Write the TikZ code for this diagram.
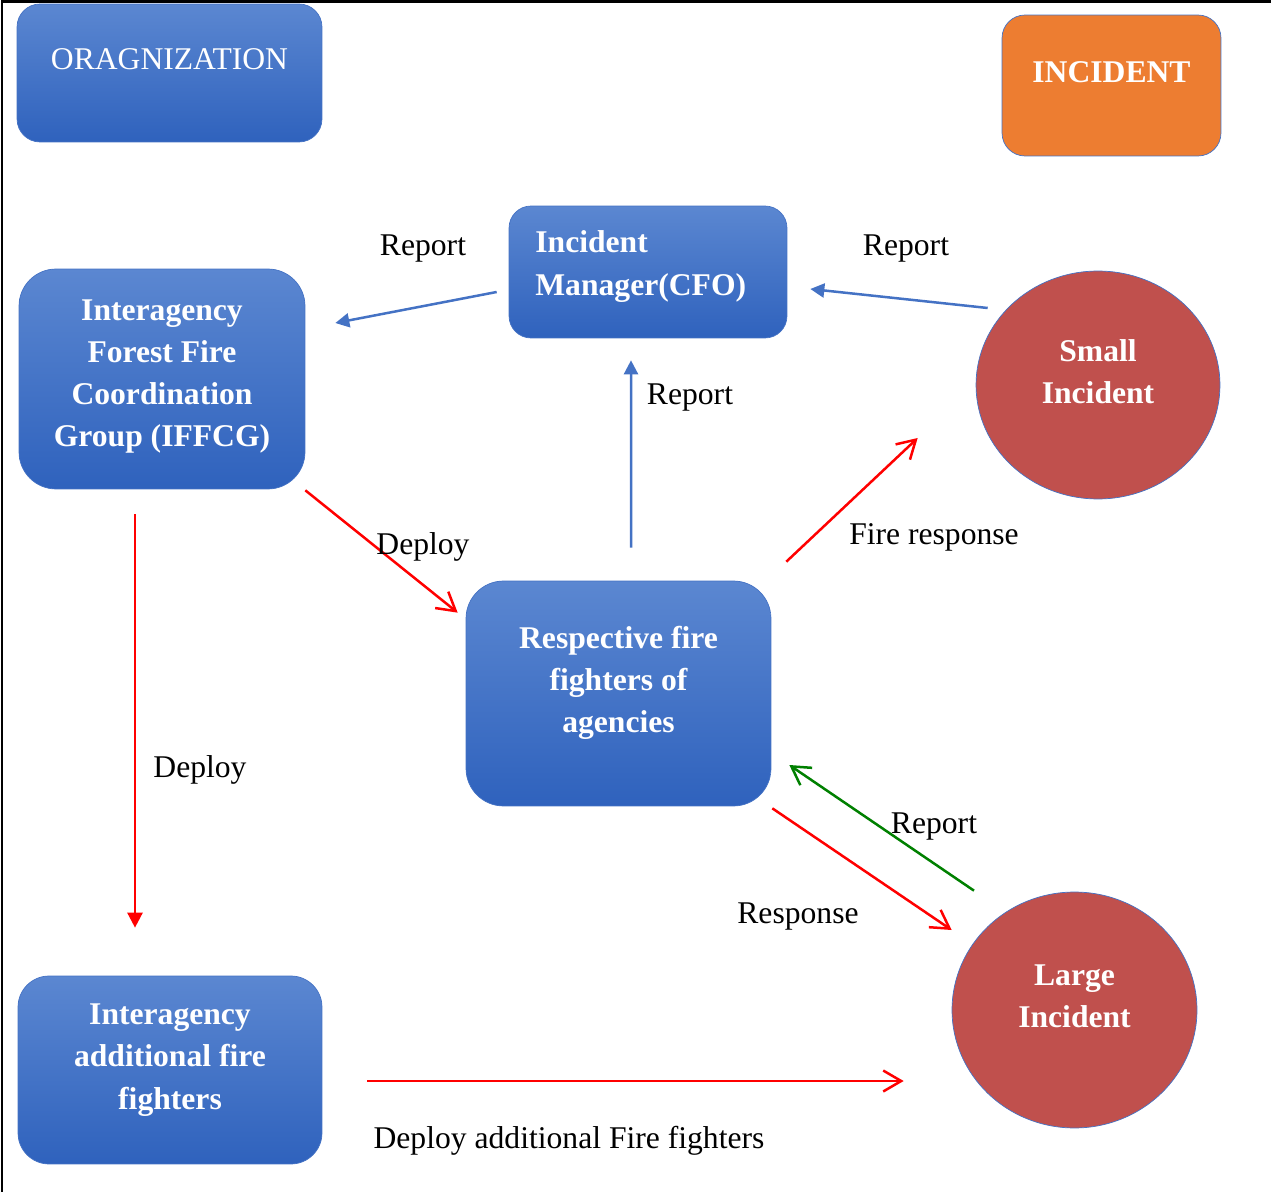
\documentclass[tikz,border=0pt]{standalone}
\usepackage{fontspec}
\setmainfont{Liberation Serif}
\usetikzlibrary{arrows.meta,shapes.geometric}

\definecolor{boxtop}{HTML}{5B87D1}
\definecolor{boxbottom}{HTML}{2F62BD}
\definecolor{boxline}{HTML}{4472C4}
\definecolor{incidentred}{HTML}{C0504D}
\definecolor{incidentorange}{HTML}{ED7D31}
\definecolor{reportgreen}{HTML}{008000}

\begin{document}
\begin{tikzpicture} [x=0.02cm, y=-0.02cm,
every node/.style = {align=center, text=white,
font=\fontsize{18}{24}\selectfont\bfseries},
box/.style = {shape=rectangle, rounded corners=#1, draw=boxline,
top color=boxtop, bottom color=boxbottom},
box/.default = 0.46cm,
blob/.style = {shape=ellipse, draw=boxline, fill=incidentred},
tag/.style = {text=black, font=\fontsize{18}{24}\selectfont},
bluearrow/.style = {draw=boxline, line width=0.05cm,
-{Triangle[length=0.28cm, width=0.28cm]}},
redarrow/.style = {draw=red, line width=0.05cm,
-{Straight Barb[length=0.36cm, width=0.42cm]}}]
\useasboundingbox (0,0) rectangle (1271,1192);
\draw [line width=0.06cm] (2,1192) -- (2,2) -- (1271,2);

% boxes and incidents
\node (org) [box, minimum width=6.1cm, minimum height=2.76cm,
label={[yshift=0.28cm, font=\fontsize{18}{24}\selectfont]center:ORAGNIZATION}]
at (169.5,73) {};
\node (incident) [shape=rectangle, rounded corners=0.46cm, draw=boxline,
fill=incidentorange, minimum width=4.38cm, minimum height=2.82cm,
label={[yshift=0.27cm]center:INCIDENT}] at (1111.5,85.5) {};
\node (mgr) [box=0.44cm, minimum width=5.56cm, minimum height=2.64cm,
label={[anchor=west, xshift=0.41cm, yshift=0.11cm, align=left]west:{Incident\\Manager(CFO)}}]
at (648,272) {};
\node (iffcg) [box=0.74cm, minimum width=5.72cm, minimum height=4.4cm,
label={[yshift=0.05cm]center:{Interagency\\Forest Fire\\Coordination\\Group (IFFCG)}}]
at (162,379) {};
\node (fire) [box=0.75cm, minimum width=6.1cm, minimum height=4.5cm,
label={[yshift=0.21cm]center:{Respective fire\\fighters of\\agencies}}]
at (618.5,693.5) {};
\node (extra) [box=0.62cm, minimum width=6.08cm, minimum height=3.76cm,
label={[yshift=0.2cm]center:{Interagency\\additional fire\\fighters}}]
at (170,1070) {};
\node (small) [blob, minimum width=4.88cm, minimum height=4.56cm,
label={[yshift=0.27cm]center:{Small\\Incident}}] at (1098,385) {};
\node (large) [blob, minimum width=4.9cm, minimum height=4.72cm,
label={[yshift=0.27cm]center:{Large\\Incident}}] at (1074.5,1010) {};

% connectors
\draw [bluearrow] ([shift={(-12,20)}]mgr.west) -- ([shift={(30,-56)}]iffcg.east);
\draw [bluearrow] ([shift={(12,-77)}]small.west) -- ([shift={(23,17)}]mgr.east);
\draw [bluearrow] ([shift={(12.5,-33)}]fire.north) -- ([shift={(-17,22)}]mgr.south);
\draw [redarrow] ([shift={(0,1)}]iffcg.south east) -- ([shift={(-8,32)}]fire.north west);
\draw [redarrow] ([shift={(15,-19)}]fire.north east) -- ([shift={(-58,53)}]small.west);
\draw [redarrow, draw=reportgreen] ([shift={(-100.5,-1)}]large.north) -- ([shift={(18,71.5)}]fire.east);
\draw [redarrow] ([shift={(1,2)}]fire.south east) -- ([shift={(0,-80)}]large.west);
\draw [draw=red, line width=0.05cm, -{Triangle[length=0.3cm, width=0.3cm]}]
([shift={(-27,25)}]iffcg.south) -- ([shift={(-35,-48)}]extra.north);
\draw [redarrow] ([shift={(45,11)}]extra.east) -- ([shift={(-48,71)}]large.west);

% labels
\node (report-left) [tag] at (423,249) {Report};
\node (report-right) [tag] at (906,249) {Report};
\node (report-up) [tag] at (690,398) {Report};
\node (deploy-fire) [tag] at (423,547) {Deploy};
\node (response-small) [tag] at (934,537) {Fire response};
\node (report-large) [tag] at (934,827) {Report};
\node (response-large) [tag] at (798,917) {Response};
\node (deploy-extra) [tag] at (200,770) {Deploy};
\node (deploy-more) [tag] at (569,1141) {Deploy additional Fire fighters};
\end{tikzpicture}
\end{document}
